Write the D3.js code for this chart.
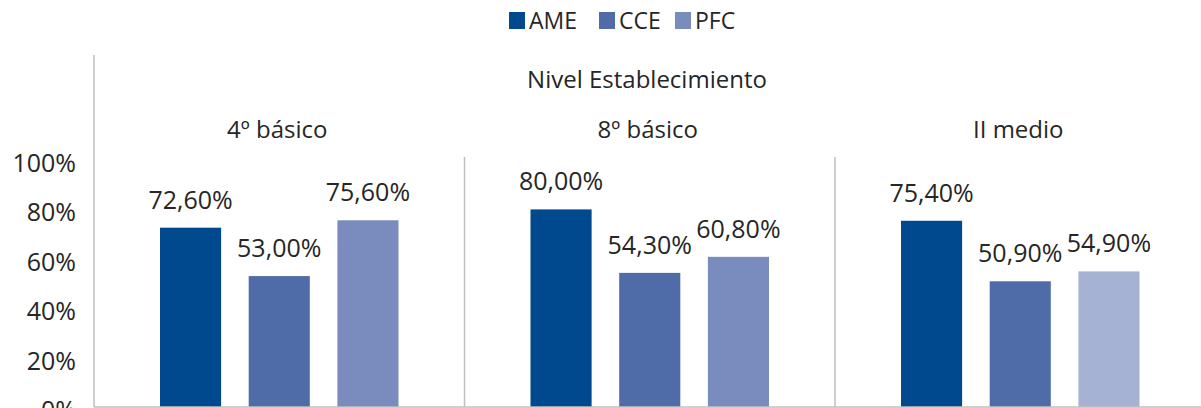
<!DOCTYPE html>
<html>
<head>
<meta charset="utf-8">
<script src="https://cdn.jsdelivr.net/npm/d3@7"></script>
<style>
	body { margin: 0; background: #fff; }
	text { font-family: "Open Sans", sans-serif; fill: #262626; }
</style>
</head>
<body>
<div id="chart"></div>
<script>

var groups = ["4º básico", "8º básico", "II medio"];
var series = ["AME", "CCE", "PFC"];
var ame = [72.6, 80.0, 75.4];
var cce = [53.0, 54.3, 50.9];
var pfc = [75.6, 60.8, 54.9];
var yTicks = [0, 20, 40, 60, 80, 100];
var topTitle = "Nivel Establecimiento";

var colors = { AME: "#00498f", CCE: "#4f6ca8", PFC: "#7a8bbd" };
// the last PFC bar is drawn lighter in the original
var lightPfc = "#a6b2d4";

var width = 1201, height = 408;
var left = 94, bottom = 407;

var svg = d3.select("#chart")
	.append("svg")
	.attr("width", width)
	.attr("height", height);

var x0 = d3.scaleBand()
	.domain(groups)
	.range([left, left + 3 * 370.5]);

var x1 = d3.scaleBand()
	.domain(series)
	.range([66, 304.5])
	.paddingInner(0.311);

var y = d3.scaleLinear()
	.domain([0, 100])
	.range([bottom, 160]);

var fmt = function(v) {
	return v.toFixed(2).replace(".", ",") + "%";
};

var rows = [];
groups.forEach(function(g, i) {
	rows.push({ g: g, s: "AME", v: ame[i] });
	rows.push({ g: g, s: "CCE", v: cce[i] });
	rows.push({ g: g, s: "PFC", v: pfc[i] });
});

// y axis labels
svg.append("g")
	.selectAll("text")
	.data(yTicks)
	.enter()
	.append("text")
	.attr("x", 76)
	.attr("y", function(d) { return y(d) + 12; })
	.attr("text-anchor", "end")
	.style("font-size", "25px")
	.text(function(d) { return d + "%"; });

// bars
svg.append("g")
	.selectAll("rect")
	.data(rows)
	.enter()
	.append("rect")
	.attr("x", function(d) { return x0(d.g) + x1(d.s); })
	.attr("y", function(d) { return y(d.v); })
	.attr("width", x1.bandwidth())
	.attr("height", function(d) { return bottom - y(d.v); })
	.style("fill", function(d) {
		if (d.s == "PFC" && d.g == "II medio") return lightPfc;
		return colors[d.s];
	});

// value labels
svg.append("g")
	.selectAll("text")
	.data(rows)
	.enter()
	.append("text")
	.attr("x", function(d) { return x0(d.g) + x1(d.s) + x1.bandwidth() / 2; })
	.attr("y", function(d) { return y(d.v) - 19; })
	.attr("text-anchor", "middle")
	.style("font-size", "25px")
	.text(function(d) { return fmt(d.v); });

// axis lines and separators
svg.append("line")
	.attr("x1", left).attr("x2", left)
	.attr("y1", 55).attr("y2", bottom)
	.attr("stroke", "#bfbfbf").attr("stroke-width", 1.5);

svg.append("line")
	.attr("x1", left).attr("x2", width)
	.attr("y1", bottom).attr("y2", bottom)
	.attr("stroke", "#bfbfbf").attr("stroke-width", 1.5);

svg.append("g")
	.selectAll("line")
	.data(groups.slice(1))
	.enter()
	.append("line")
	.attr("x1", function(d) { return x0(d); })
	.attr("x2", function(d) { return x0(d); })
	.attr("y1", 157).attr("y2", bottom)
	.attr("stroke", "#bfbfbf").attr("stroke-width", 1.5);

// group titles
svg.append("g")
	.selectAll("text")
	.data(groups)
	.enter()
	.append("text")
	.attr("x", function(d) { return x0(d) + x0.bandwidth() / 2 - 2; })
	.attr("y", 138)
	.attr("text-anchor", "middle")
	.style("font-size", "24px")
	.text(function(d) { return d; });

svg.append("text")
	.attr("x", 647)
	.attr("y", 88)
	.attr("text-anchor", "middle")
	.style("font-size", "24px")
	.text(topTitle);

// legend
var legendX = [509, 599, 675];
var legend = svg.append("g")
	.selectAll("g")
	.data(series)
	.enter()
	.append("g")
	.attr("transform", function(d, i) { return "translate(" + legendX[i] + ",12)"; });

legend.append("rect")
	.attr("width", 16)
	.attr("height", 17)
	.style("fill", function(d) { return colors[d]; });

legend.append("text")
	.attr("x", 20)
	.attr("y", 17)
	.style("font-size", "23px")
	.text(function(d) { return d; });

</script>
</body>
</html>
